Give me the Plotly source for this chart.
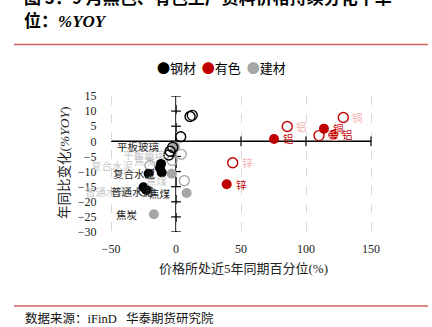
import plotly.graph_objects as go

# ---------------- data ----------------
steel_now_x = [-11.5, -12.3, -11.0, -21.0, -25.0, -23.0]
steel_now_y = [-7.4, -8.8, -10.3, -10.7, -15.2, -16.0]
steel_prev_x = [10.8, 12.5, 3.6, -2.5, -4.5, -5.5]
steel_prev_y = [8.2, 8.6, 1.5, -2.0, -3.3, -4.5]

metal_names = ["铝", "铜", "铝", "锌"]
metal_now_x = [75.4, 113.8, 121.0, 39.0]
metal_now_y = [0.8, 4.2, 2.2, -14.2]
metal_prev_names = ["铝", "铜", "铝", "锌"]
metal_prev_x = [85.6, 128.7, 110.0, 43.6]
metal_prev_y = [4.9, 7.9, 1.9, -7.1]

build_names = ["平板玻璃", "复合水泥", "普通水泥", "焦煤", "焦炭"]
build_now_x = [-0.8, -3.3, -20.0, 8.2, -17.0]
build_now_y = [-1.7, -10.7, -16.5, -17.1, -24.1]
build_prev_names = ["平板玻璃", "焦炭", "复合水泥", "焦煤", "普通水泥"]
build_prev_x = [4.0, -3.0, -20.0, 6.4, -25.0]
build_prev_y = [-4.3, -6.3, -8.0, -13.0, -16.5]

x_ticks = [-50, 0, 50, 100, 150]
y_ticks = [-30, -25, -20, -15, -10, -5, 0, 5, 10, 15]

BLACK = "#000000"
RED = "#C00000"
GRAY = "#A6A6A6"

W, H = 432, 327
L, R, T, B = 108, 58, 96, 95
PXU = 1.3  # px per unit
XR = [-50 - (111 - L) / PXU, -50 - (111 - L) / PXU + (W - L - R) / PXU]


def pp(x, y):
    """pixel -> paper coords"""
    return (x - L) / (W - L - R), (H - B - y) / (H - T - B)


fig = go.Figure()

# small tick marks on the axes that cross at the origin
fig.add_trace(go.Scatter(x=x_ticks[1:], y=[0] * (len(x_ticks) - 1), mode="markers",
                         showlegend=False, hoverinfo="skip",
                         marker=dict(symbol="line-ns", size=7, line=dict(color="#000", width=1.2))))
fig.add_trace(go.Scatter(x=[0] * len(y_ticks), y=y_ticks, mode="markers",
                         showlegend=False, hoverinfo="skip",
                         marker=dict(symbol="line-ew", size=7, line=dict(color="#000", width=1.2))))

def add_pts(xs, ys, color, filled):
    fig.add_trace(go.Scatter(
        x=xs, y=ys, mode="markers", showlegend=False,
        marker=dict(size=10, color=color if filled else "rgba(255,255,255,0)",
                    line=dict(color=color, width=0 if filled else 1.4)),
        hoverinfo="skip"))

add_pts(build_prev_x, build_prev_y, GRAY, False)
add_pts(build_now_x, build_now_y, GRAY, True)
add_pts(steel_prev_x, steel_prev_y, BLACK, False)
add_pts(steel_now_x, steel_now_y, BLACK, True)
add_pts(metal_prev_x, metal_prev_y, RED, False)
add_pts(metal_now_x, metal_now_y, RED, True)

LBL_FONT = "Noto Sans CJK SC"
ann = []

def labels(names, xs, ys, color, side, shifts=None):
    for i, (n, x, y) in enumerate(zip(names, xs, ys)):
        sh = shifts[i] if shifts else 0
        ann.append(dict(
            x=x, y=y, xref="x", yref="y", text=n, showarrow=False,
            xanchor="right" if side == "l" else "left", yanchor="middle",
            xshift=(-14 if side == "l" else 7) + sh,
            font=dict(family=LBL_FONT, size=10.5, color=color)))

labels(build_prev_names, build_prev_x, build_prev_y, "#C8C8C8", "l")
labels(build_names, build_now_x, build_now_y, "#262626", "l", [0, 0, 20, 0, 0])
labels(metal_prev_names, metal_prev_x, metal_prev_y, "#F4AFAF", "r")
labels(metal_names, metal_now_x, metal_now_y, RED, "r")

# title
tx, ty = pp(22, -3)
ann.append(dict(x=tx, y=ty, xref="paper", yref="paper", xanchor="left", yanchor="middle",
                showarrow=False, text="<b>图 5：9 月黑色、有色生产资料价格持续分化丨单</b>",
                font=dict(family="Noto Sans CJK SC", size=17, color="#000")))
tx, ty = pp(22, 21)
ann.append(dict(x=tx, y=ty, xref="paper", yref="paper", xanchor="left", yanchor="middle",
                showarrow=False, text="<b>位：</b><b><i>%YOY</i></b>",
                font=dict(family="Liberation Serif, Noto Sans CJK SC", size=17, color="#000")))

# legend (inline)
lx, ly = pp(221, 67)
ann.append(dict(x=lx, y=ly, xref="paper", yref="paper", xanchor="center", yanchor="middle",
                showarrow=False,
                text=f"<span style='color:{BLACK}'>●</span>钢材  "
                     f"<span style='color:{RED}'>●</span>有色  "
                     f"<span style='color:{GRAY}'>●</span>建材",
                font=dict(family="Noto Sans CJK SC", size=13, color="#000")))

# axis titles
ax_, ay_ = pp(243, 268)
ann.append(dict(x=ax_, y=ay_, xref="paper", yref="paper", xanchor="center", yanchor="middle",
                showarrow=False, text="价格所处近5年同期百分位(%)",
                font=dict(family="Liberation Serif, Noto Sans CJK SC", size=13, color="#222")))
ax_, ay_ = pp(64, 163)
ann.append(dict(x=ax_, y=ay_, xref="paper", yref="paper", xanchor="center", yanchor="middle",
                showarrow=False, textangle=-90, text="年同比变化(<i>%YOY</i>)",
                font=dict(family="Liberation Serif, Noto Sans CJK SC", size=13.5, color="#222")))

# footer
fx, fy = pp(23, 318)
ann.append(dict(x=fx, y=fy, xref="paper", yref="paper", xanchor="left", yanchor="middle",
                showarrow=False, text="数据来源：iFinD   华泰期货研究院",
                font=dict(family="Liberation Serif, Noto Sans CJK SC", size=12.5, color="#111")))

shapes = []
for yy in (44.5, 306):
    x0, y0 = pp(14, yy)
    x1, _ = pp(428, yy)
    shapes.append(dict(type="line", xref="paper", yref="paper", x0=x0, x1=x1, y0=y0, y1=y0,
                       line=dict(color="#D2605C", width=1.5)))
# axis lines crossing at the origin (horizontal from -50 to 150, vertical from -30 to 15)
shapes.append(dict(type="line", xref="x", yref="y", x0=x_ticks[0], x1=x_ticks[-1], y0=0, y1=0,
                   line=dict(color="#000", width=1.5), layer="below"))
shapes.append(dict(type="line", xref="x", yref="y", x0=0, x1=0, y0=y_ticks[0], y1=y_ticks[-1],
                   line=dict(color="#000", width=1.5), layer="below"))

fig.update_layout(
    width=W, height=H, margin=dict(l=L, r=R, t=T, b=B, autoexpand=False),
    paper_bgcolor="white", plot_bgcolor="white", showlegend=False,
    annotations=ann, shapes=shapes,
    xaxis=dict(range=XR, tickvals=x_ticks, showline=False, zeroline=False,
               showgrid=True, gridcolor="#D9D9D9", griddash="dash", gridwidth=1.2,
               ticks="outside", ticklen=6, tickcolor="rgba(0,0,0,0)",
               tickfont=dict(family="Liberation Serif", size=12, color="#222")),
    yaxis=dict(range=[-30, 15], tickvals=y_ticks, showline=False, zeroline=False, showgrid=False,
               ticks="outside", ticklen=8, tickcolor="rgba(0,0,0,0)",
               tickfont=dict(family="Liberation Serif", size=12, color="#222")),
)

fig.write_html("out.html")
